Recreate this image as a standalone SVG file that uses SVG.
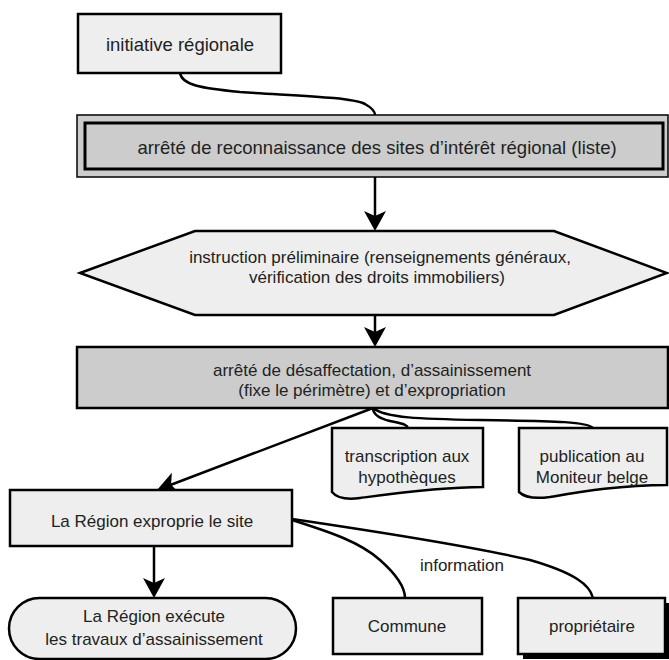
<svg xmlns="http://www.w3.org/2000/svg" width="669" height="660" viewBox="0 0 669 660">
<style>
.lt{fill:#eeeeee;stroke:#000;stroke-width:2.5}
.dk{fill:#cccccc;stroke:#000;stroke-width:2.5}
.cn{fill:none;stroke:#000;stroke-width:2.5}
text{font-family:"Liberation Sans",Arial,sans-serif;font-size:17px;fill:#222;text-anchor:middle}
.big{font-size:18.5px}
</style>
<defs>
<marker id="ah" markerUnits="userSpaceOnUse" markerWidth="24" markerHeight="24" viewBox="0 0 24 24" refX="12" refY="12" orient="auto">
<path d="M22,12 L2,1 L7,12 L2,23 Z" fill="#000"/>
</marker>
</defs>
<rect width="669" height="660" fill="#fff"/>
<g id="connectors">
<path class="cn" d="M180,73 C182,85 200,88 240,92 C300,96 350,97 365,104 C372,108 375,111 375,115"/>
<path class="cn" d="M375,177 V221" marker-end="url(#ah)"/>
<path class="cn" d="M375,315 V337" marker-end="url(#ah)"/>
<path class="cn" d="M373,408 L166.4,486.5" marker-end="url(#ah)"/>
<path class="cn" d="M373,408 C373,416 383,420 395,422 C404,424 407,425 408,428"/>
<path class="cn" d="M373,408 C385,418 420,419 480,420 C560,421 588,422 593,428"/>
<path class="cn" d="M154,546 V588" marker-end="url(#ah)"/>
<path class="cn" d="M292,520 C330,532 360,542 380,560 C398,576 405,588 405,598"/>
<path class="cn" d="M292,519 C380,532 470,546 530,560 C575,573 590,585 593,598"/>
<text x="462" y="571">information</text>
</g>
<g id="initiative">
<rect class="lt" x="78" y="14" width="203" height="59"/>
<text class="big" x="180" y="51">initiative régionale</text>
</g>
<g id="reconnaissance">
<rect x="77" y="115" width="591" height="62" fill="#cccccc" stroke="#000" stroke-width="1.5"/>
<rect x="85" y="123" width="578" height="46" fill="#cccccc" stroke="#000" stroke-width="3"/>
<text class="big" x="377" y="154">arrêté de reconnaissance des sites d’intérêt régional (liste)</text>
</g>
<g id="instruction">
<polygon class="lt" points="80,273 195,231 554,231 667,273 554,315 195,315"/>
<text x="380" y="263">instruction préliminaire (renseignements généraux,</text>
<text x="377" y="283">vérification des droits immobiliers)</text>
</g>
<g id="desaffectation">
<rect class="dk" x="77" y="347" width="591" height="61"/>
<text x="372" y="376">arrêté de désaffectation, d’assainissement</text>
<text x="372" y="396">(fixe le périmètre) et d’expropriation</text>
</g>
<g id="transcription">
<path class="lt" d="M332,428 H483 V487 C440,487 390,494 360,498 C345,500 336,497 332,492 Z"/>
<text x="407" y="462">transcription aux</text>
<text x="407" y="483">hypothèques</text>
</g>
<g id="publication">
<path class="lt" d="M519,428 H667 V485 C620,485 580,492 550,497 C535,499 524,497 519,492 Z"/>
<text x="592" y="462">publication au</text>
<text x="592" y="483">Moniteur belge</text>
</g>
<g id="expropriation">
<rect class="lt" x="10" y="490" width="282" height="56"/>
<text x="152" y="527">La Région exproprie le site</text>
</g>
<g id="execution">
<rect class="lt" x="9" y="598" width="287" height="61" rx="30.5" ry="30.5"/>
<text x="154" y="622">La Région exécute</text>
<text x="154" y="645">les travaux d’assainissement</text>
</g>
<g id="commune">
<rect class="lt" x="333" y="598" width="149" height="56"/>
<text x="407" y="632">Commune</text>
</g>
<g id="proprietaire">
<rect x="523" y="603" width="147" height="56" fill="#000"/>
<rect class="lt" x="518" y="598" width="147" height="56"/>
<text x="592" y="632">propriétaire</text>
</g>
</svg>
